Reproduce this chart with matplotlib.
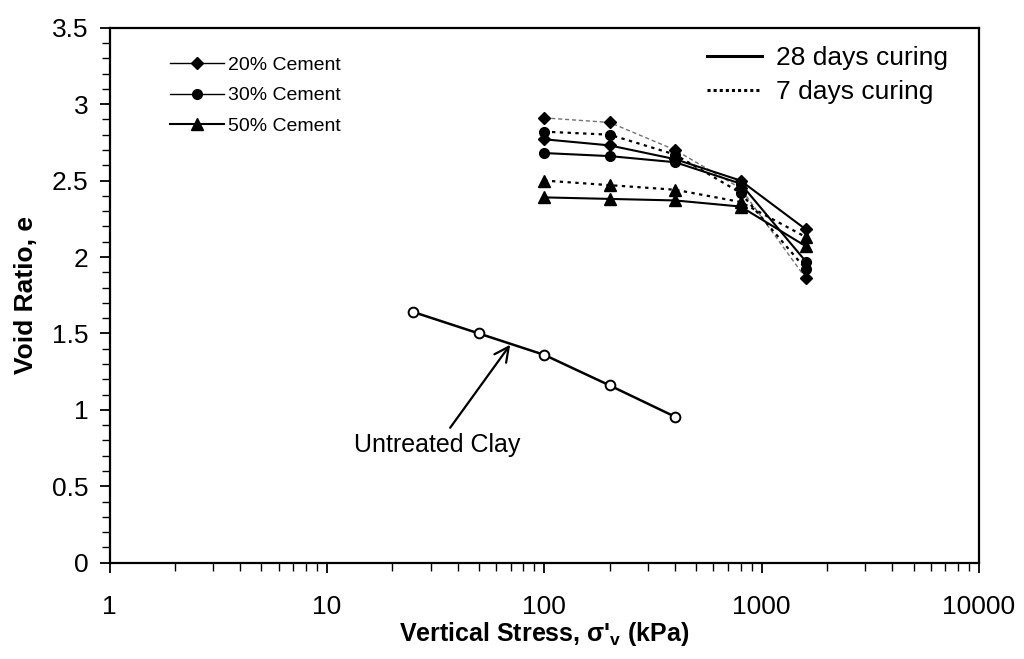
import numpy as np
import matplotlib.pyplot as plt
from matplotlib.ticker import MultipleLocator, FixedLocator, FuncFormatter
from matplotlib.lines import Line2D

plt.rcParams['font.family'] = ['Liberation Sans', 'DejaVu Sans']

# Vertical stress (kPa)
stress_cem = [100, 200, 400, 800, 1600]
stress_clay = [25, 50, 100, 200, 400]

# Void ratio, cement-treated clay
e20_28 = [2.77, 2.73, 2.64, 2.50, 2.18]
e20_7 = [2.91, 2.88, 2.70, 2.45, 1.86]
e30_28 = [2.68, 2.66, 2.62, 2.48, 1.97]
e30_7 = [2.82, 2.80, 2.67, 2.42, 1.92]
e50_28 = [2.39, 2.38, 2.37, 2.33, 2.07]
e50_7 = [2.50, 2.47, 2.44, 2.36, 2.13]

# Untreated clay
e_clay = [1.64, 1.50, 1.36, 1.16, 0.955]

fig, ax = plt.subplots(figsize=(10.24, 6.59), dpi=100)
fig.subplots_adjust(left=0.107, right=0.956, top=0.958, bottom=0.146)

ms = 7
ax.plot(stress_cem, e20_7, color='0.45', ls=(0, (3, 2)), lw=1.0, marker='D', ms=ms-1, mfc='k', mec='k')
ax.plot(stress_cem, e30_7, color='k', ls=(0, (1.5, 2)), lw=1.6, marker='o', ms=ms, mfc='k', mec='k')
ax.plot(stress_cem, e50_7, color='k', ls=(0, (1.5, 2)), lw=1.6, marker='^', ms=ms+1, mfc='k', mec='k')
ax.plot(stress_cem, e20_28, color='k', ls='-', lw=1.5, marker='D', ms=ms-1, mfc='k', mec='k')
ax.plot(stress_cem, e30_28, color='k', ls='-', lw=1.5, marker='o', ms=ms, mfc='k', mec='k')
ax.plot(stress_cem, e50_28, color='k', ls='-', lw=1.5, marker='^', ms=ms+1, mfc='k', mec='k')

ax.plot(stress_clay, e_clay, color='k', lw=1.8, marker='o', ms=7, mfc='white', mec='k', mew=1.4)

ax.text(32, 0.77, 'Untreated Clay', ha='center', va='center', fontsize=18)
ax.annotate('', xy=(69.7, 1.426), xytext=(36.9, 0.883),
            arrowprops=dict(arrowstyle='->', color='k', lw=1.6, mutation_scale=26, shrinkA=0, shrinkB=0))

ax.set_xscale('log')
ax.set_xlim(1, 10000)
ax.set_ylim(0, 3.5)
ax.set_xticks([1, 10, 100, 1000, 10000])
ax.set_xticklabels(['1', '10', '100', '1000', '10000'])
ax.xaxis.set_minor_locator(FixedLocator([m * 10**k for k in range(4) for m in range(2, 10)]))
ax.xaxis.set_minor_formatter(plt.NullFormatter())
ax.yaxis.set_major_locator(MultipleLocator(0.5))
ax.yaxis.set_minor_locator(MultipleLocator(0.1))
ax.yaxis.set_major_formatter(FuncFormatter(lambda v, p: '%g' % round(v, 2)))

ax.tick_params(which='major', direction='out', length=7, width=1.3, labelsize=19)
ax.tick_params(which='minor', direction='out', length=6, width=1.0)
ax.tick_params(axis='x', pad=16)
ax.tick_params(axis='y', pad=8)
for sp in ax.spines.values():
    sp.set_linewidth(1.6)

ax.set_xlabel("Vertical Stress, σ'$_\\mathregular{v}$ (kPa)", fontsize=18, fontweight='bold', labelpad=1)
ax.set_ylabel('Void Ratio, e', fontsize=19, fontweight='bold', labelpad=10)

h1 = [Line2D([], [], color='k', lw=1.0, marker='D', ms=6, mfc='k'),
      Line2D([], [], color='k', lw=1.0, marker='o', ms=7, mfc='k'),
      Line2D([], [], color='k', lw=1.5, marker='^', ms=8, mfc='k')]
leg1 = ax.legend(h1, ['20% Cement', '30% Cement', '50% Cement'], loc='upper left',
                 bbox_to_anchor=(0.069, 0.946), frameon=False, fontsize=14,
                 borderpad=0, borderaxespad=0,
                 handlelength=2.8, labelspacing=0.65, handletextpad=0.2)
ax.add_artist(leg1)

h2 = [Line2D([], [], color='k', lw=2.2, ls='-'),
      Line2D([], [], color='k', lw=2.2, ls=(0, (1, 1)))]
ax.legend(h2, ['28 days curing', '7 days curing'], loc='upper left',
          bbox_to_anchor=(0.687, 0.966), frameon=False, fontsize=19,
          borderpad=0, borderaxespad=0,
          handlelength=2.1, labelspacing=0.4, handletextpad=0.53)

fig.savefig('out.png', dpi=100)
